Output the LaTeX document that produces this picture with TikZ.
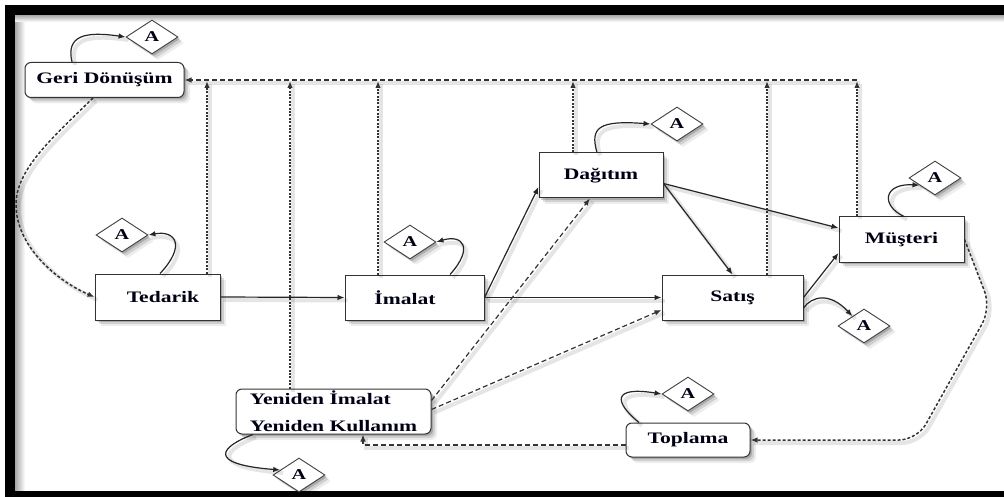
\documentclass[tikz,border=0pt]{standalone}
\usepackage{graphicx}
\usepackage{fontspec}
\setmainfont{Liberation Serif}
\usetikzlibrary{arrows.meta,shapes.geometric,shadows,calc}

% labels are set a little wider than the font's natural shape
\newcommand\widetext[1]{\scalebox{1.35}[1]{#1}}

\tikzset{
  softshadow/.style={
    drop shadow={shadow xshift=2pt,shadow yshift=-2pt,opacity=0.18,fill=black},
    drop shadow={shadow xshift=4pt,shadow yshift=-4pt,opacity=0.12,fill=black},
    drop shadow={shadow xshift=6pt,shadow yshift=-6pt,opacity=0.07,fill=black}},
  lineshadow/.style={
    preaction={draw=black, opacity=0.10, line width=4pt, solid, -,
      transform canvas={shift={(3pt,-3pt)}}}},
  box/.style={draw=black!80, line width=1pt, fill=white, inner sep=0pt,
    minimum height=45pt, text=black!92!blue,
    font=\bfseries\fontsize{16}{20}\selectfont, softshadow},
  rbox/.style={box, rounded corners=6pt},
  dia/.style={diamond, draw=black!75, line width=0.9pt, fill=white, inner sep=0pt,
    minimum width=52pt, minimum height=34pt, text=black!92!blue,
    font=\bfseries\fontsize{15}{17}\selectfont, softshadow},
  tip/.style={-{Latex[length=7pt,width=5.5pt]}},
  solidarrow/.style={tip, line width=1.2pt, draw=black!85, lineshadow},
  dotarrow/.style={tip, line width=1.9pt, draw=black!80, dash pattern=on 2pt off 1.4pt, lineshadow},
  dasharrow/.style={tip, line width=1.2pt, draw=black!80, dash pattern=on 5pt off 3pt, lineshadow},
  densearrow/.style={tip, line width=1.5pt, draw=black!80, dash pattern=on 3pt off 2pt, lineshadow},
}

\begin{document}
\begin{tikzpicture}[x=1pt,y=-1pt]
\useasboundingbox (0,0) rectangle (1004,497);
\fill[white] (0,0) rectangle (1004,497);

% frame
\shade[left color=black!35, right color=white] (15,15) rectangle (25,491);
\shade[top color=black!35, bottom color=white] (15,15) rectangle (1004,22);
\fill[black] (5,5) rectangle (1004,15);
\fill[black] (5,5) rectangle (15,497);
\fill[black] (5,491) rectangle (1004,497);

% return line to Geri Dönüşüm
\coordinate (cted) at (207,81);
\coordinate (cyen) at (290,81);
\coordinate (cima) at (378,81);
\coordinate (cdag) at (573,81);
\coordinate (csat) at (767,81);
\coordinate (cmus) at (857,81);

% process boxes
\node[rbox, minimum width=159pt, minimum height=35pt] (gd) at (104.5,80) {\widetext{Geri Dönüşüm}};
\node[box, minimum width=125pt, minimum height=46pt] (ted) at (157.5,297) {\hspace*{11pt}\widetext{Tedarik}};
\node[box, minimum width=139pt] (ima) at (414.5,297.5) {\widetext{İmalat}\hspace*{19pt}};
\node[box, minimum width=124pt] (dag) at (601,175.5) {\widetext{Dağıtım}};
\node[box, minimum width=141pt] (sat) at (732.5,297.5) {\widetext{Satış}};
\node[box, minimum width=125pt] (mus) at (901.5,239.5) {\widetext{Müşteri}};
\node[rbox, minimum width=124pt, minimum height=34pt] (topl) at (688,440) {\widetext{Toplama}};
\node[rbox, minimum width=195pt, align=left, font=\bfseries\fontsize{16}{27}\selectfont] (yen) at (333.5,411.5)
  {\widetext{Yeniden İmalat}\\\widetext{Yeniden Kullanım}};

% A markers
\node[dia] (a1) at (152,37) {\widetext{A}};
\node[dia] (a2) at (122,235) {\widetext{A}};
\node[dia] (a3) at (410,242) {\widetext{A}};
\node[dia] (a4) at (677,124) {\widetext{A}};
\node[dia] (a5) at (935,178) {\widetext{A}};
\node[dia] (a6) at (864,326) {\widetext{A}};
\node[dia] (a7) at (688,394) {\widetext{A}};
\node[dia] (a8) at (299,475) {\widetext{A}};

\draw[dasharrow] (857,80) -- (gd.east);
\draw[dotarrow] (ted.north -| cted) -- (cted);
\draw[dotarrow] (yen.north -| cyen) -- (cyen);
\draw[dotarrow] (ima.north -| cima) -- (cima);
\draw[dotarrow] (dag.north -| cdag) -- (cdag);
\draw[dotarrow] (sat.north -| csat) -- (csat);
\draw[dotarrow] (mus.north -| cmus) -- (cmus);

% forward flow
\draw[solidarrow] (ted.east) -- (ima.west);
\draw[solidarrow] (ima.east) -- ([yshift=-11.5pt]dag.west);
\draw[solidarrow] (ima.east) -- (sat.west);
\draw[solidarrow] ([yshift=-8pt]dag.east) -- (sat.north);
\draw[solidarrow] ([yshift=-8pt]dag.east) -- ([yshift=11.5pt]mus.west);
\draw[solidarrow] (sat.east) -- ([yshift=-13.5pt]mus.west);

% reverse flow
\draw[densearrow] ([xshift=-11.5pt]gd.south) .. controls (50,140) and (16,170) .. (16,205)
  .. controls (16,245) and (55,280) .. (ted.west);
\draw[densearrow, rounded corners=18pt] (mus.east) -- (991,308) -- (917,440) -- (topl.east);
\draw[dasharrow] ([yshift=-5pt]topl.west) -| ([xshift=29.5pt]yen.south);
\draw[dasharrow] ([yshift=11pt]yen.east) -- ([xshift=-11pt]dag.south);
\draw[dasharrow] ([yshift=2pt]yen.east) -- ([yshift=-12.5pt]sat.west);

% loops to the A markers
\draw[solidarrow] ([xshift=-32.5pt]gd.north) .. controls (66,36) and (84,31) .. (a1.west);
\draw[solidarrow] ([xshift=2.5pt]ted.north) .. controls (186,246) and (176,230) .. (a2.east);
\draw[solidarrow] ([xshift=35.5pt]ima.north) .. controls (474,248) and (463,234) .. (a3.east);
\draw[solidarrow] ([xshift=-4pt]dag.north) .. controls (590,128) and (598,120) .. (a4.west);
\draw[solidarrow] ([xshift=2.5pt]mus.north) .. controls (880,205) and (884,183) .. (a5.205);
\draw[solidarrow] ([yshift=-10.5pt]sat.east) .. controls (812,296) and (830,292) .. (a6.140);
\draw[solidarrow] ([xshift=-49pt]topl.north) .. controls (614,402) and (612,386) .. (a7.west);
\draw[solidarrow] ([xshift=-80.5pt]yen.south) .. controls (222,446) and (204,464) .. (a8.165);
\end{tikzpicture}
\end{document}
